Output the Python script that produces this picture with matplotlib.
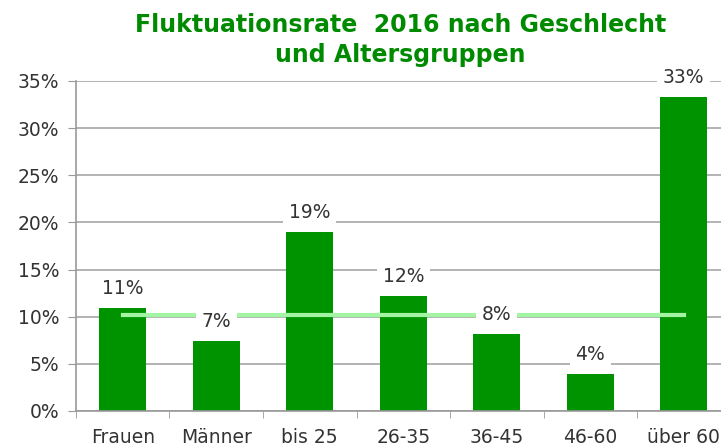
import matplotlib.pyplot as plt

# Data
categories = ["Frauen", "Männer", "bis 25", "26-35", "36-45", "46-60", "über 60"]
rates = [0.109, 0.074, 0.190, 0.122, 0.082, 0.039, 0.333]
labels = ["11%", "7%", "19%", "12%", "8%", "4%", "33%"]
average = 0.102

fig = plt.figure(figsize=(7.21, 4.46), dpi=100)
# plot area runs past the right edge like in the original screenshot
ax = fig.add_axes([0.1054, 0.0785, 0.9078, 0.7399])

x = list(range(len(categories)))
ax.bar(x, rates, width=0.5, color="#009300", zorder=2)
ax.plot(x, [average] * len(x), color="#a3f5a3", linewidth=3, zorder=3)

for xi, v, lab in zip(x, rates, labels):
    ax.annotate(lab, (xi, v), xytext=(0, 7), textcoords="offset points",
                ha="center", va="bottom", fontsize=13.5, color="#333333",
                bbox=dict(boxstyle="square,pad=0.3", fc="white", ec="none"),
                zorder=4)

ax.set_xlim(-0.5, 6.5)
ax.set_ylim(0, 0.35)
ax.set_yticks([i * 0.05 for i in range(8)])
ax.set_yticklabels([f"{i * 5}%" for i in range(8)])
ax.set_xticks(x)
ax.set_xticklabels(categories)
ax.set_xticks([i - 0.5 for i in range(8)], minor=True)
ax.tick_params(axis="x", which="major", length=0, pad=12.5, labelsize=13.5, labelcolor="#333333")
ax.tick_params(axis="x", which="minor", length=5, color="#999999")
ax.tick_params(axis="y", length=6, color="#999999", labelsize=13.5, labelcolor="#333333", pad=6)

ax.grid(axis="y", color="#a6a6a6", linewidth=1.2, zorder=0)
ax.set_axisbelow(True)
for s in ["top", "right"]:
    ax.spines[s].set_visible(False)
for s in ["left", "bottom"]:
    ax.spines[s].set_color("#999999")
    ax.spines[s].set_linewidth(1.2)

fig.text(0.555, 0.928, "Fluktuationsrate  2016 nach Geschlecht", ha="center", va="baseline",
         fontsize=17, fontweight="bold", color="#008a00")
fig.text(0.555, 0.861, "und Altersgruppen", ha="center", va="baseline",
         fontsize=17, fontweight="bold", color="#008a00")

fig.savefig("out.png", dpi=100)
